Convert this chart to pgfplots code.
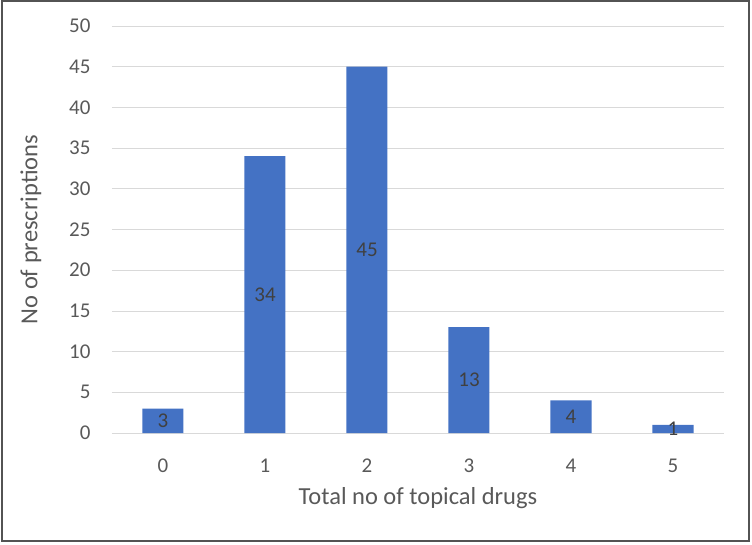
\documentclass[border=0pt]{standalone}
\usepackage{pgfplots}
\pgfplotsset{compat=1.18}
\usepackage{fontspec}
\setmainfont{Carlito}
\definecolor{barblue}{HTML}{4472C4}
\definecolor{ticktext}{HTML}{595959}
\definecolor{lbltext}{HTML}{404040}
\definecolor{gridc}{HTML}{D9D9D9}
\begin{document}
\begin{tikzpicture}[x=1pt,y=1pt]
\useasboundingbox (-112,-111) rectangle (640,433);
\draw[color=lbltext!90,line width=1.5pt] (-110,-108) rectangle (637,432);
\begin{axis}[
  at={(0,0)}, anchor=south west,
  scale only axis, width=612pt, height=407pt,
  xmin=-0.5, xmax=5.5, ymin=0, ymax=50,
  xtick={0,1,2,3,4,5},
  ytick={0,5,...,50},
  axis x line*=bottom, axis y line*=left,
  x axis line style={draw=gridc, -},
  y axis line style={draw=none},
  ymajorgrids, grid style={gridc, line width=0.8pt},
  major tick length=0pt,
  tick label style={font=\fontsize{21}{24}\selectfont, text=ticktext},
  yticklabel style={xshift=-18pt},
  xticklabel style={yshift=-22pt},
  xlabel={Total no of topical drugs},
  ylabel={No of prescriptions},
  label style={font=\fontsize{24.5}{28}\selectfont, text=ticktext},
  xlabel style={yshift=-8pt},
  ylabel style={yshift=21pt},
  /pgf/number format/assume math mode=true,
]
\addplot[ybar, bar width=41pt, fill=barblue, draw=none]
  coordinates {(0,3) (1,34) (2,45) (3,13) (4,4) (5,1)};
\addplot[only marks, mark=none, nodes near coords, point meta=explicit symbolic,
  nodes near coords style={font=\fontsize{21}{24}\selectfont, text=lbltext, anchor=center}]
  coordinates {(0,1.5)[3] (1,17)[34] (2,22.5)[45] (3,6.5)[13] (4,2)[4] (5,0.5)[1]};
\end{axis}
\end{tikzpicture}
\end{document}
